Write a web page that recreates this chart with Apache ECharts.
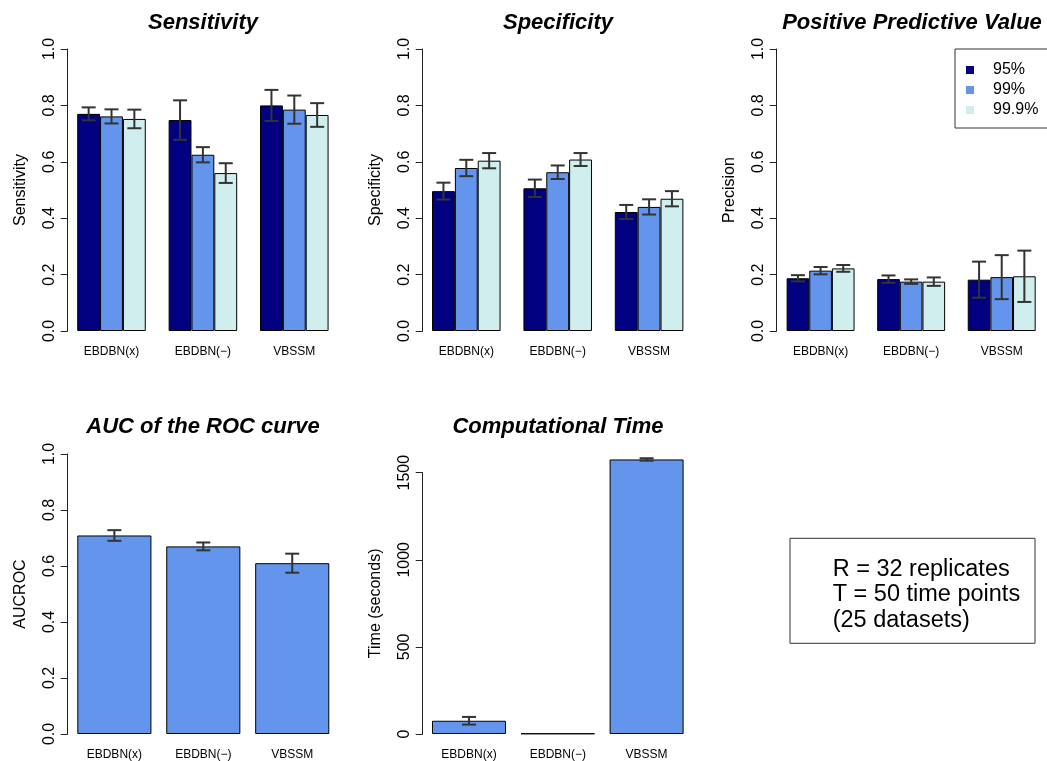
<!DOCTYPE html>
<html><head><meta charset="utf-8">
<script src="https://cdn.jsdelivr.net/npm/echarts@6/dist/echarts.min.js"></script>
<style>html,body{margin:0;padding:0;background:#fff}#c{width:1047px;height:761px}</style>
</head><body><div id="c"></div><script>
// ---------- data ----------
const methods = ['EBDBN(x)', 'EBDBN(−)', 'VBSSM'];
const thresholds = ['95%', '99%', '99.9%'];

const sens95 = [0.770, 0.748, 0.800], sens95Err = [0.023, 0.070, 0.055];
const sens99 = [0.761, 0.625, 0.785], sens99Err = [0.025, 0.027, 0.050];
const sens999 = [0.752, 0.560, 0.766], sens999Err = [0.033, 0.035, 0.042];

const spec95 = [0.496, 0.506, 0.422], spec95Err = [0.030, 0.031, 0.025];
const spec99 = [0.578, 0.563, 0.440], spec99Err = [0.029, 0.024, 0.027];
const spec999 = [0.604, 0.608, 0.469], spec999Err = [0.027, 0.023, 0.027];

const ppv95 = [0.187, 0.184, 0.182], ppv95Err = [0.011, 0.013, 0.064];
const ppv99 = [0.214, 0.175, 0.191], ppv99Err = [0.013, 0.008, 0.078];
const ppv999 = [0.222, 0.175, 0.194], ppv999Err = [0.012, 0.015, 0.091];

const auc = [0.709, 0.670, 0.610], aucErr = [0.019, 0.014, 0.034];
const timeSec = [76, 3, 1576], timeErr = [22, 0, 7];

const noteLines = ['R = 32 replicates', 'T = 50 time points', '(25 datasets)'];

// ---------- styling ----------
const FONT = '"Liberation Sans", Arial, Helvetica, sans-serif';
const colors = ['#000080', '#6495ED', '#D1EEEE'];
const single = '#6495ED';

const grids = [
  { left: 65.8, top: 49, width: 274.2, height: 282 },
  { left: 420.6, top: 49, width: 274.2, height: 282 },
  { left: 775.3, top: 49, width: 274.2, height: 282 },
  { left: 69.9, top: 454, width: 266.8, height: 282 },
  { left: 424.6, top: 472.7, width: 266.4, height: 263.3 }
];
const yOffsets = [-1.9, -2.1, -1.4, 2.2, 1.9];
const yNames = ['Sensitivity', 'Specificity', 'Precision', 'AUCROC', 'Time (seconds)'];
const titles = ['Sensitivity', 'Specificity', 'Positive Predictive Value', 'AUC of the ROC curve', 'Computational Time'];
const titlePos = [[203, 12], [558, 12], [912, 12], [203, 416], [558, 416]];

function errData(mean, err) {
  return mean.map((m, i) => [i, m - err[i], m + err[i]]);
}
function errSeries(gi, data, idx, n, gapFrac) {
  return {
    type: 'custom', xAxisIndex: gi, yAxisIndex: gi, z: 5, silent: true,
    data: data, encode: { x: 0, y: [1, 2] },
    renderItem: function (params, api) {
      const cat = api.value(0);
      const lo = api.value(1), hi = api.value(2);
      if (hi - lo <= 0) return null;
      const pLo = api.coord([cat, lo]);
      const pHi = api.coord([cat, hi]);
      const band = api.size([1, 0])[0];
      const bw = band * (1 - gapFrac) / n;
      const x = pLo[0] + (idx - (n - 1) / 2) * bw;
      const h = 7;
      const st = { stroke: '#333333', lineWidth: 2 };
      return { type: 'group', children: [
        { type: 'line', shape: { x1: x, y1: pLo[1], x2: x, y2: pHi[1] }, style: st },
        { type: 'line', shape: { x1: x - h, y1: pLo[1], x2: x + h, y2: pLo[1] }, style: st },
        { type: 'line', shape: { x1: x - h, y1: pHi[1], x2: x + h, y2: pHi[1] }, style: st }
      ]};
    }
  };
}
function barSeries(gi, name, data, color, gap) {
  return {
    type: 'bar', name: name, xAxisIndex: gi, yAxisIndex: gi, data: data,
    barGap: '0%', barCategoryGap: gap, clip: false,
    itemStyle: { color: color, borderColor: '#000', borderWidth: 1 },
    emphasis: { disabled: true }
  };
}

const xAxes = grids.map((g, i) => ({
  type: 'category', gridIndex: i, data: methods,
  axisLine: { show: false }, axisTick: { show: false },
  axisLabel: { fontSize: 12, color: '#000', fontFamily: FONT, margin: 15, interval: 0 }
}));
const yAxes = grids.map((g, i) => {
  const isTime = i === 4;
  return {
    type: 'value', gridIndex: i, min: 0, max: isTime ? 1500 : 1, interval: isTime ? 500 : 0.2,
    offset: yOffsets[i],
    name: yNames[i], nameLocation: 'middle', nameGap: 39, nameRotate: 90,
    nameTextStyle: { fontSize: 16, color: '#000', fontFamily: FONT },
    splitLine: { show: false },
    axisLine: { show: true, lineStyle: { color: '#222', width: 1 } },
    axisTick: { show: true, length: 7, lineStyle: { color: '#222', width: 1 } },
    axisLabel: {
      rotate: 90, fontSize: 16, color: '#000', fontFamily: FONT, margin: 10,
      formatter: isTime ? (v => String(v)) : (v => v.toFixed(1))
    }
  };
});

const series = [];
const groupGap = '25%';
[[sens95, sens95Err], [sens99, sens99Err], [sens999, sens999Err]].forEach((d, k) => {
  series.push(barSeries(0, thresholds[k], d[0], colors[k], groupGap));
});
[[spec95, spec95Err], [spec99, spec99Err], [spec999, spec999Err]].forEach((d, k) => {
  series.push(barSeries(1, thresholds[k], d[0], colors[k], groupGap));
});
[[ppv95, ppv95Err], [ppv99, ppv99Err], [ppv999, ppv999Err]].forEach((d, k) => {
  series.push(barSeries(2, thresholds[k], d[0], colors[k], groupGap));
});
[[sens95, sens95Err], [sens99, sens99Err], [sens999, sens999Err]].forEach((d, k) => {
  series.push(errSeries(0, errData(d[0], d[1]), k, 3, 0.25));
});
[[spec95, spec95Err], [spec99, spec99Err], [spec999, spec999Err]].forEach((d, k) => {
  series.push(errSeries(1, errData(d[0], d[1]), k, 3, 0.25));
});
[[ppv95, ppv95Err], [ppv99, ppv99Err], [ppv999, ppv999Err]].forEach((d, k) => {
  series.push(errSeries(2, errData(d[0], d[1]), k, 3, 0.25));
});
series.push(barSeries(3, 'AUC', auc, single, '16.667%'));
series.push(errSeries(3, errData(auc, aucErr), 0, 1, 1 / 6));
series.push(barSeries(4, 'Time', timeSec, single, '16.667%'));
series.push(errSeries(4, errData(timeSec, timeErr), 0, 1, 1 / 6));

const chart = echarts.init(document.getElementById('c'), null, { renderer: 'canvas' });
chart.setOption({
  animation: false,
  backgroundColor: '#fff',
  title: titles.map((t, i) => ({
    text: t, left: titlePos[i][0], top: titlePos[i][1], textAlign: 'center', padding: 0,
    textStyle: { fontSize: 22, fontWeight: 'bold', fontStyle: 'italic', color: '#000', fontFamily: FONT }
  })),
  grid: grids,
  xAxis: xAxes,
  yAxis: yAxes,
  legend: {
    data: thresholds, left: 955, top: 49, orient: 'vertical', selectedMode: false,
    icon: 'rect', itemWidth: 8, itemHeight: 8, itemGap: 0,
    itemStyle: { borderWidth: 0 },
    borderColor: '#333', borderWidth: 1, padding: [11, 200, 8, 11],
    textStyle: { fontSize: 16, color: '#000', fontFamily: FONT, lineHeight: 20, padding: [0, 0, 0, 14] }
  },
  graphic: [
    { type: 'rect', shape: { x: 790, y: 538.3, width: 245, height: 105 },
      style: { fill: 'none', stroke: '#333', lineWidth: 1 } },
    { type: 'text', x: 832.7, y: 556.3,
      style: { text: noteLines.join('\n'), font: '23.5px ' + FONT, fill: '#000', lineHeight: 25.5, verticalAlign: 'top' } }
  ],
  series: series
});
</script></body></html>
